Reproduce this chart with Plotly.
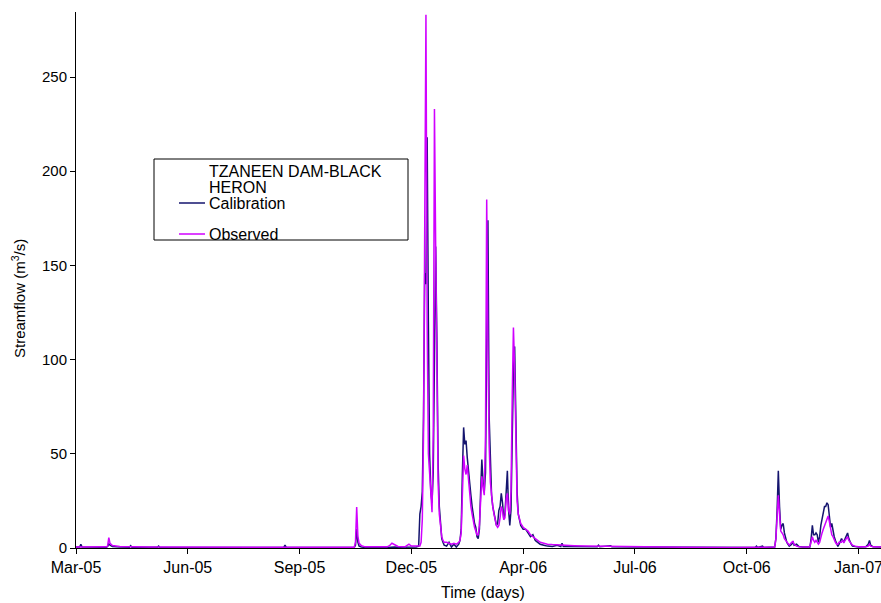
import pandas as pd
import plotly.graph_objects as go

# ---- data ----
start_date = "2005-03-29"
day = [0, 3, 4, 5, 20, 25, 26, 27, 28, 30, 36, 44, 45, 46, 60, 67, 68, 69, 100, 150,
       171, 172, 173, 200, 229, 230, 231, 232, 233, 235, 238, 256, 258, 260, 262, 265,
       271, 273, 274, 276, 280, 282, 283, 284, 285, 286, 287, 288, 289, 290, 291, 292,
       293, 294, 295, 296, 297, 298, 299, 300, 301, 302, 303, 305, 307, 309, 311, 313,
       315, 316, 317, 318, 319, 320, 321, 322, 323, 324, 325, 326, 327, 328, 329, 330,
       331, 332, 333, 334, 335, 336, 337, 338, 339, 340, 341, 342, 343, 344, 345, 346,
       347, 348, 349, 350, 351, 352, 353, 354, 355, 356, 357, 358, 359, 360, 361, 362,
       363, 364, 365, 366, 368, 370, 372, 374, 376, 378, 380, 382, 385, 388, 392, 396,
       399, 400, 401, 410, 420, 429, 430, 431, 440, 441, 460, 500, 540, 559, 560, 561,
       565, 566, 575, 576, 577, 578, 579, 580, 581, 582, 583, 584, 585, 586, 587, 589,
       590, 591, 593, 595, 598, 603, 604, 605, 606, 607, 608, 609, 610, 611, 612, 613,
       614, 615, 616, 617, 618, 619, 620, 621, 622, 623, 624, 625, 626, 627, 628, 629,
       630, 631, 632, 633, 634, 635, 636, 637, 638, 639, 641, 644, 650, 652, 653, 654,
       656, 663]

observed = [0.5, 0.5, 0.5, 0.5, 0.5, 0.6, 1.0, 5.5, 2.5, 1.3, 0.8, 0.6, 0.6, 0.6, 0.5, 0.5, 0.5, 0.5, 0.4, 0.4,
            0.4, 0.4, 0.4, 0.4, 0.4, 3.0, 21.7, 6.0, 2.5, 1.2, 0.6, 0.6, 1.2, 2.5, 1.8, 0.8,
            0.7, 1.5, 2.0, 1.0, 0.8, 0.8, 1.0, 3.0, 15, 60, 150, 283, 120, 50, 40, 30,
            19, 60, 233, 160, 70, 35, 18, 10, 6, 4, 3, 3, 2.5, 2, 2.5, 2,
            3, 4, 8, 30, 49, 42, 39, 44, 35, 28, 22, 18, 14, 11, 9, 7,
            7, 12, 25, 38, 32, 28, 60, 185, 110, 55, 35, 27, 22, 18, 15, 12,
            11, 12, 16, 22, 20, 15, 16, 26, 29, 20, 18, 30, 80, 117, 95, 45,
            25, 18, 15, 13, 11, 10, 9, 7, 6, 5, 4, 3, 2.5, 2, 1.8, 1.6,
            1.5, 1.5, 1.5, 1.2, 1.0, 0.9, 0.9, 0.9, 0.8, 0.8, 0.6, 0.4, 0.3, 0.3, 0.3, 0.3,
            0.3, 0.3, 0.5, 5, 18, 28, 18, 9, 8, 7, 5, 4, 3, 2, 1.5, 3,
            3.5, 2, 1, 0.7, 0.5, 0.5, 0.8, 3, 6, 4, 3, 4, 3, 2, 3, 6,
            8, 10, 12, 14, 16, 17, 14, 10, 7, 6, 4, 3, 2, 2, 3, 3,
            3, 4, 3, 4, 5, 6, 4, 3, 2, 1.5, 1, 0.7, 0.6, 1, 2, 1,
            0.6, 0.5]

calibration = [0.5, 0.5, 2.0, 0.5, 0.4, 0.4, 0.8, 2.2, 1.5, 0.8, 0.5, 0.4, 1.2, 0.4, 0.4, 0.4, 1.0, 0.3, 0.3, 0.3,
               0.3, 1.5, 0.3, 0.3, 0.3, 1.5, 10.0, 3.0, 1.0, 0.5, 0.3, 0.3, 0.4, 0.6, 0.5, 0.4,
               0.4, 0.5, 0.6, 0.5, 0.5, 1.0, 18, 22, 30, 70, 146, 140, 218, 120, 50, 30,
               24, 40, 100, 160, 110, 45, 22, 10, 5, 3, 1.5, 1, 3, 0.5, 2, 0.5,
               2, 4, 10, 40, 64, 55, 57, 48, 40, 34, 28, 22, 17, 13, 11, 6,
               5, 10, 30, 47, 35, 30, 40, 100, 174, 70, 40, 28, 22, 18, 14, 12,
               13, 20, 22, 29, 24, 16, 18, 32, 41, 20, 12, 20, 55, 95, 107, 60,
               30, 18, 14, 12, 10, 10, 8, 6, 7, 4, 3, 2, 1.5, 1, 0.8, 1.5,
               0.8, 2.5, 0.8, 0.8, 0.7, 0.7, 1.5, 0.7, 1.2, 0.6, 0.5, 0.3, 0.3, 0.3, 1.0, 0.3,
               1.0, 0.3, 0.5, 5, 20, 41, 22, 10, 12, 13, 8, 5, 3, 2, 1, 2,
               3.5, 1.5, 2, 0.8, 0.5, 0.5, 0.5, 5, 12, 7, 7, 8, 7, 3, 6, 12,
               15, 18, 22, 22, 24, 23, 16, 11, 13, 9, 6, 4, 2, 0.8, 2, 4,
               5, 4, 3, 5, 7, 8, 5, 3, 2, 1, 0.7, 0.5, 0.6, 2, 4, 1.5,
               0.6, 0.5]

tick_labels = ["Mar-05", "Jun-05", "Sep-05", "Dec-05", "Apr-06", "Jul-06", "Oct-06", "Jan-07"]
tick_step_days = 92
y_ticks = [0, 50, 100, 150, 200, 250]

legend_title_lines = ["TZANEEN DAM-BLACK", "HERON"]
series_names = ["Calibration", "Observed"]
colors = ["#14146E", "#D000FF"]

# ---- build ----
t0 = pd.Timestamp(start_date)
dates = t0 + pd.to_timedelta(day, unit="D")
tick_vals = [t0 + pd.Timedelta(days=tick_step_days * k) for k in range(len(tick_labels))]

W, H = 881, 603
ML, MR, MT, MB = 76, 0, 12, 55
PW, PH = W - ML - MR, H - MT - MB

def px(x):
    return (x - ML) / PW

def py(y):
    return (H - MB - y) / PH

FONT = "Liberation Sans, Arial, sans-serif"

fig = go.Figure()
fig.add_trace(go.Scatter(x=dates, y=calibration, mode="lines", name=series_names[0],
                         line=dict(color=colors[0], width=1.5), showlegend=False))
fig.add_trace(go.Scatter(x=dates, y=observed, mode="lines", name=series_names[1],
                         line=dict(color=colors[1], width=1.5), showlegend=False))

fig.update_layout(
    width=W, height=H,
    margin=dict(l=ML, r=MR, t=MT, b=MB, autoexpand=False),
    paper_bgcolor="white", plot_bgcolor="white",
    font=dict(family=FONT, size=15, color="black"),
    xaxis=dict(
        type="date",
        range=[t0, t0 + pd.Timedelta(days=662.5)],
        tickvals=tick_vals, ticktext=tick_labels,
        ticks="outside", ticklen=5, tickcolor="black", tickwidth=1,
        showline=True, linecolor="black", linewidth=1,
        showgrid=False, zeroline=False, automargin=False,
        ticklabeloverflow="allow",
        tickfont=dict(size=16),
    ),
    yaxis=dict(
        range=[0, 284.5],
        tickvals=y_ticks,
        ticks="outside", ticklen=5, tickcolor="black", tickwidth=1,
        showline=True, linecolor="black", linewidth=1,
        showgrid=False, zeroline=False, automargin=False,
        tickfont=dict(size=15),
    ),
)

# axis titles
fig.add_annotation(text="Time (days)", xref="paper", yref="paper",
                   x=px(483), y=py(592), showarrow=False,
                   xanchor="center", yanchor="middle", font=dict(size=16))
fig.add_annotation(text="Streamflow (m<sup>3</sup>/s)", xref="paper", yref="paper",
                   x=px(18), y=py(299), textangle=-90, showarrow=False,
                   xanchor="center", yanchor="middle", font=dict(size=15))

# legend box drawn manually
fig.add_shape(type="rect", xref="paper", yref="paper",
              x0=px(154), x1=px(408), y0=py(240), y1=py(159),
              line=dict(color="black", width=1), fillcolor="white", layer="above")
for line_text, yy in zip(legend_title_lines, [171, 187]):
    fig.add_annotation(text=line_text, xref="paper", yref="paper", x=px(207), y=py(yy),
                       xanchor="left", yanchor="middle", showarrow=False,
                       font=dict(size=16))
for name, col, yy in zip(series_names, colors, [203, 234]):
    fig.add_shape(type="line", xref="paper", yref="paper",
                  x0=px(179), x1=px(205), y0=py(yy), y1=py(yy),
                  line=dict(color=col, width=1.5), layer="above")
    fig.add_annotation(text=name, xref="paper", yref="paper", x=px(207), y=py(yy),
                       xanchor="left", yanchor="middle", showarrow=False,
                       font=dict(size=16))

fig.write_html("out.html", config={"displayModeBar": False},
               post_script="document.body.style.margin='0';document.body.style.overflow='hidden';")
